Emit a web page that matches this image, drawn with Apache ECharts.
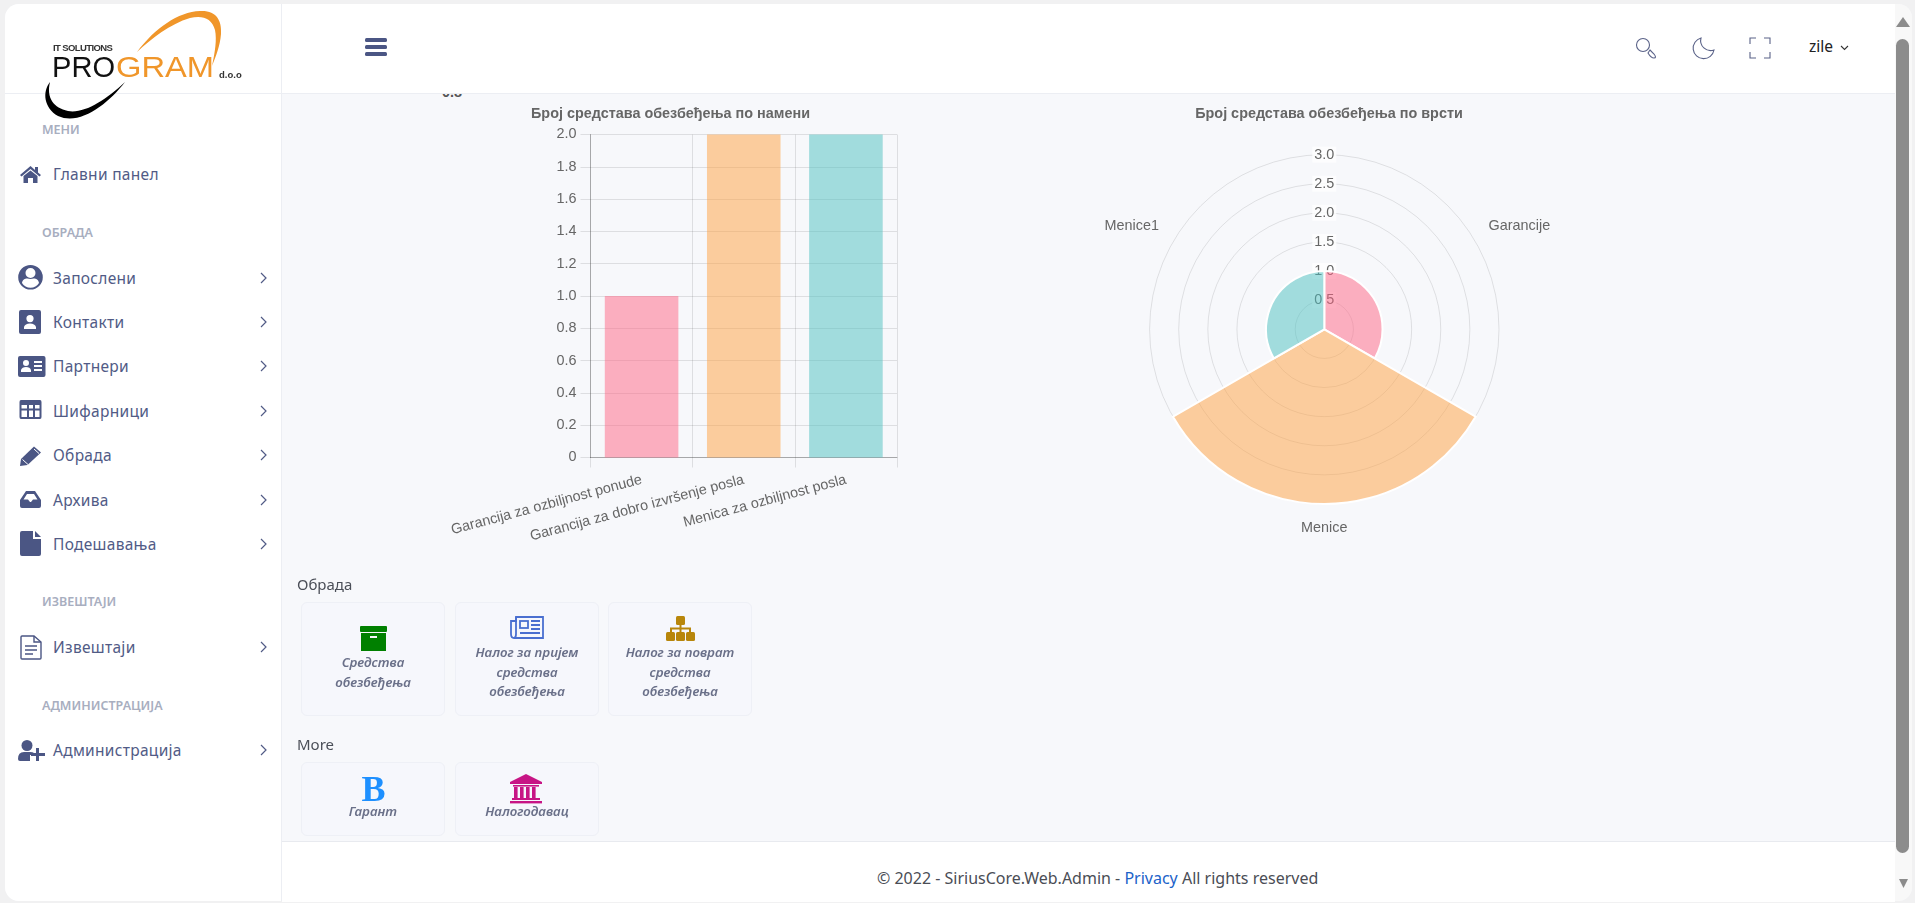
<!DOCTYPE html>
<html>
<head>
<meta charset="utf-8">
<title>SiriusCore.Web.Admin</title>
<script src="https://cdn.jsdelivr.net/npm/echarts@6/dist/echarts.min.js"></script>
<style>
html, body {
	margin: 0px;
	width: 1915px;
	height: 903px;
	overflow: hidden;
	background: #f1f1f2;
	font-family: "Noto Sans", sans-serif;
}
#frame {
	position: absolute;
	left: 5px;
	top: 4px;
	width: 1907px;
	height: 897px;
	background: #f7f8fb;
	border-radius: 14px;
	overflow: hidden;
}
#main1 {
	position: absolute;
	left: 0px;
	top: 0px;
	width: 1915px;
	height: 903px;
}
#sidebar {
	position: absolute;
	left: 5px;
	top: 4px;
	width: 276px;
	height: 897px;
	background: #fff;
	border-right: 1px solid #eceef3;
	border-radius: 14px 0 0 14px;
}
#header {
	position: absolute;
	left: 282px;
	top: 4px;
	width: 1613px;
	height: 89px;
	background: #fff;
	border-bottom: 1px solid #eceef3;
}
#logoline {
	position: absolute;
	left: 5px;
	top: 93px;
	width: 276px;
	height: 1px;
	background: #eceef3;
}
#footer {
	position: absolute;
	left: 282px;
	top: 841px;
	width: 1613px;
	height: 60px;
	background: #fff;
	border-top: 1px solid #e8eaef;
}
#scroll {
	position: absolute;
	left: 1895px;
	top: 4px;
	width: 17px;
	height: 897px;
	background: #f8f8f8;
	border-radius: 0 14px 14px 0;
}
#thumb {
	position: absolute;
	left: 1896px;
	top: 39px;
	width: 13px;
	height: 814px;
	background: #8c8c8c;
	border-radius: 7px;
}
.t {
	position: absolute;
	white-space: nowrap;
	line-height: 20px;
}
.menu {
	font-size: 15.5px;
	color: #515b86;
	letter-spacing: 0.3px;
}
.sec {
	font-size: 12.5px;
	font-weight: 600;
	color: #a8aebf;
}
.head {
	font-size: 15px;
	color: #4b4f58;
}
.card {
	position: absolute;
	width: 142px;
	background: #f6f7fc;
	border: 1px solid #eef0f6;
	border-radius: 6px;
}
.cap {
	position: absolute;
	width: 144px;
	text-align: center;
	font-size: 13.3px;
	font-style: italic;
	font-weight: 600;
	line-height: 19.6px;
	color: #6a7089;
}
svg {
	position: absolute;
	left: 0px;
	top: 0px;
}
</style>
</head>
<body>
	<div id="frame"></div>
	<div class="t" style="left:442px;top:84px;font:bold 14.4px 'Liberation Sans';color:#555;">0.8</div>
	<div class="card" style="left:301px;top:602px;height:112px;"></div>
	<div class="card" style="left:455px;top:602px;height:112px;"></div>
	<div class="card" style="left:608px;top:602px;height:112px;"></div>
	<div class="card" style="left:301px;top:762px;height:72px;"></div>
	<div class="card" style="left:455px;top:762px;height:72px;"></div>
	<div id="main1"></div>
	<div id="header"></div>
	<div id="sidebar"></div>
	<div id="logoline"></div>
	<div id="footer"></div>
	<div id="scroll"></div>
	<div id="thumb"></div>

	<div class="t sec" style="left:42px;top:120px;">МЕНИ</div>
	<div class="t sec" style="left:42px;top:223px;">ОБРАДА</div>
	<div class="t sec" style="left:42px;top:592px;">ИЗВЕШТАЈИ</div>
	<div class="t sec" style="left:42px;top:696px;">АДМИНИСТРАЦИЈА</div>

	<div class="t menu" style="left:53px;top:164px;">Главни панел</div>
	<div class="t menu" style="left:53px;top:268px;">Запослени</div>
	<div class="t menu" style="left:53px;top:312px;">Контакти</div>
	<div class="t menu" style="left:53px;top:356px;">Партнери</div>
	<div class="t menu" style="left:53px;top:401px;">Шифарници</div>
	<div class="t menu" style="left:53px;top:445px;">Обрада</div>
	<div class="t menu" style="left:53px;top:490px;">Архива</div>
	<div class="t menu" style="left:53px;top:534px;">Подешавања</div>
	<div class="t menu" style="left:53px;top:637px;">Извештаји</div>
	<div class="t menu" style="left:53px;top:740px;">Администрација</div>

	<div class="t head" style="left:297px;top:574px;">Обрада</div>
	<div class="t head" style="left:297px;top:734px;">More</div>

	<div class="cap" style="left:301px;top:653px;">Средства<br>обезбеђења</div>
	<div class="cap" style="left:455px;top:643px;">Налог за пријем<br>средства<br>обезбеђења</div>
	<div class="cap" style="left:608px;top:643px;">Налог за поврат<br>средства<br>обезбеђења</div>
	<div class="cap" style="left:301px;top:802px;">Гарант</div>
	<div class="cap" style="left:455px;top:802px;">Налогодавац</div>

	<div class="t" style="left:1809px;top:36px;font-size:15.5px;color:#222;">zile</div>
	<div class="t" style="left:877px;top:868px;font-size:16px;color:#4a4d55;">© 2022 - SiriusCore.Web.Admin - <span style="color:#1b62c9;">Privacy</span> All rights reserved</div>

	<svg width="1915" height="903">
		<!-- logo -->
		<path d="M137 52 C155 28 178 12 200 11 C216 10 222 20 221 34 C220 46 216 56 212 66 C215 52 217 40 215 30 C212 18 202 15 190 18 C170 24 152 38 137 52 Z" fill="#f0962a"/>
		<path d="M50 82 C42 92 44 108 58 116 C80 126 108 104 125 82 C106 100 84 114 68 111 C54 108 46 98 50 82 Z" fill="#000"/>
		<text x="53" y="51" font-family="Liberation Sans" font-weight="bold" font-size="9.5" letter-spacing="-0.6" fill="#333">IT SOLUTIONS</text>
		<text x="52" y="77" font-family="Liberation Sans" font-size="30" textLength="63" lengthAdjust="spacingAndGlyphs" fill="#111">PRO</text>
		<text x="116" y="77" font-family="Liberation Sans" font-size="30" textLength="98" lengthAdjust="spacingAndGlyphs" fill="#f0962a">GRAM</text>
		<text x="219" y="78" font-family="Liberation Sans" font-weight="bold" font-size="9.5" fill="#333">d.o.o</text>

		<g fill="#4b5684">
			<!-- hamburger -->
			<rect x="365" y="38" width="22" height="4" rx="1.5"/>
			<rect x="365" y="45" width="22" height="4" rx="1.5"/>
			<rect x="365" y="52" width="22" height="4" rx="1.5"/>
			<!-- home -->
			<path d="M20 175 L30.5 166 L35 170 L35 167 L38 167 L38 172.5 L41 175 L39.5 176.5 L30.5 169 L21.5 176.5 Z"/>
			<path d="M23.5 176 L30.5 170.5 L37.5 176 L37.5 183 L33 183 L33 178 L28 178 L28 183 L23.5 183 Z"/>
			<!-- user circle -->
			<path fill-rule="evenodd" d="M30.5 265 A12.3 12.3 0 1 0 30.5 289.6 A12.3 12.3 0 1 0 30.5 265 Z M30.5 268 A5 5 0 1 1 30.5 278 A5 5 0 1 1 30.5 268 Z M22 283 C23 278 27 278 30.5 279 C34 278 38 278 39 283 A10 10 0 0 1 22 283 Z"/>
			<!-- contacts -->
			<path fill-rule="evenodd" d="M21 310 L39 310 Q41 310 41 312 L41 332 Q41 334 39 334 L21 334 Q19 334 19 332 L19 312 Q19 310 21 310 Z M30 315 A3.6 3.6 0 1 0 30 322.2 A3.6 3.6 0 1 0 30 315 Z M24 329 L36 329 L36 327 Q35 323.5 30 323.5 Q25 323.5 24 327 Z"/>
			<!-- partner card -->
			<path fill-rule="evenodd" d="M20 356 L43.5 356 Q45.5 356 45.5 358 L45.5 375 Q45.5 377 43.5 377 L20 377 Q18 377 18 375 L18 358 Q18 356 20 356 Z M26 360 A3 3 0 1 0 26 366 A3 3 0 1 0 26 360 Z M21 372 L31 372 L31 370 Q30 367 26 367 Q22 367 21 370 Z M34 361 L42 361 L42 363 L34 363 Z M34 365 L42 365 L42 367 L34 367 Z M34 369 L42 369 L42 371 L34 371 Z"/>
			<!-- table -->
			<path fill-rule="evenodd" d="M21 400 L40 400 Q41.5 400 41.5 402 L41.5 417 Q41.5 419 40 419 L21 419 Q19.5 419 19.5 417 L19.5 402 Q19.5 400 21 400 Z M21.5 405 L21.5 408.5 L27 408.5 L27 405 Z M29 405 L29 408.5 L33 408.5 L33 405 Z M35 405 L35 408.5 L39.5 408.5 L39.5 405 Z M21.5 410.5 L21.5 417 L27 417 L27 410.5 Z M29 410.5 L29 417 L33 417 L33 410.5 Z M35 410.5 L35 417 L39.5 417 L39.5 410.5 Z"/>
			<!-- pencil -->
			<path d="M20 466 L21 459 L34 446.5 L41 452.5 L27.5 465 Z"/>
			<!-- inbox -->
			<path fill-rule="evenodd" d="M26 491 L35 491 L41 500 L41 506 Q41 508 39 508 L22 508 Q20 508 20 506 L20 500 Z M27 494 L23.5 499.5 L28 499.5 L30 502 L31 502 L33 499.5 L37.5 499.5 L34 494 Z"/>
			<!-- file -->
			<path d="M20 533 Q20 531 22 531 L33 531 L33 539 L41 539 L41 554 Q41 556 39 556 L22 556 Q20 556 20 554 Z"/>
			<path d="M35 531 L41 537 L35 537 Z"/>
			<!-- user plus -->
			<path d="M27 740 A5.5 5.5 0 1 1 27 751 A5.5 5.5 0 1 1 27 740 Z"/>
			<path d="M18 759 Q18 752 24 752 L30 752 Q33 752 34 753 L34 755 L30 755 L30 761 L20 761 Q18 761 18 759 Z"/>
			<path d="M36 748 L39 748 L39 753 L45 753 L45 756 L39 756 L39 761 L36 761 L36 756 L31 756 L31 753 L36 753 Z"/>
		</g>
		<path d="M34 449 L39 453.5 M22.5 459.5 L28 464.5" stroke="#fff" stroke-width="1" fill="none"/>
		<!-- report -->
		<g fill="none" stroke="#4b5684" stroke-width="1.4">
			<path d="M21 637 Q21 636 22 636 L34 636 L41 642 L41 658 Q41 659 40 659 L22 659 Q21 659 21 658 Z"/>
			<path d="M34 636 L34 642 L41 642"/>
			<path d="M25 646 L37 646 M25 650 L37 650 M25 654 L33 654"/>
		</g>
		<!-- arrows -->
		<g fill="none" stroke="#515b86" stroke-width="1.2">
			<path d="M261 273 L266 278 L261 283"/>
			<path d="M261 317 L266 322 L261 327"/>
			<path d="M261 361 L266 366 L261 371"/>
			<path d="M261 406 L266 411 L261 416"/>
			<path d="M261 450 L266 455 L261 460"/>
			<path d="M261 495 L266 500 L261 505"/>
			<path d="M261 539 L266 544 L261 549"/>
			<path d="M261 642 L266 647 L261 652"/>
			<path d="M261 745 L266 750 L261 755"/>
		</g>
		<!-- top right icons -->
		<g fill="none" stroke="#5a6288" stroke-width="1.1">
			<circle cx="1643" cy="45" r="6.5"/>
			<path d="M1650 50 L1654 54 Q1657 58 1654 58 Q1651 58 1648 53 Z"/>
			<path d="M1701 38 A10.5 10.5 0 1 0 1714 50 A10 10 0 0 1 1701 38 Z"/>
			<path d="M1750 44 L1750 38 L1756 38 M1764 38 L1770 38 L1770 44 M1770 52 L1770 58 L1764 58 M1756 58 L1750 58 L1750 52"/>
			<path d="M1841 46 L1844.5 49.5 L1848 46" stroke="#333"/>
		</g>
		<!-- card icons -->
		<rect x="360" y="626" width="27" height="6" rx="1" fill="#008000"/>
		<path fill-rule="evenodd" d="M361 633 L386 633 L386 651 L361 651 Z M370 636 L370 638 L377 638 L377 636 Z" fill="#008000"/>
		<g fill="none" stroke="#4a6fd0" stroke-width="1.8">
			<path d="M516 617 L543 617 L543 638 L514 638 Q511 638 511 634 L511 621 L516 621 Z"/>
			<path d="M516 617 L516 634 Q516 638 514 638"/>
			<rect x="520" y="621" width="8" height="7"/>
			<path d="M531 621 L540 621 M531 625 L540 625 M531 629 L540 629 M520 633 L540 633"/>
		</g>
		<g fill="#b8860b">
			<rect x="676" y="616" width="9" height="9" rx="1.5"/>
			<rect x="666" y="632" width="9" height="9" rx="1.5"/>
			<rect x="676" y="632" width="9" height="9" rx="1.5"/>
			<rect x="686" y="632" width="9" height="9" rx="1.5"/>
			<path d="M679.5 625 L681.5 625 L681.5 627.5 L691 627.5 L691 632 L689 632 L689 629.5 L681.5 629.5 L681.5 632 L679.5 632 L679.5 629.5 L672 629.5 L672 632 L670 632 L670 627.5 L679.5 627.5 Z"/>
		</g>
		<text x="373.5" y="801" text-anchor="middle" font-family="Liberation Serif" font-weight="bold" font-size="36" fill="#1e90ff">B</text>
		<g fill="#c71585">
			<path d="M526 774 L542 782 L542 784 L510 784 L510 782 Z"/>
			<rect x="513" y="785" width="26" height="1.6"/>
			<rect x="514" y="787" width="3.6" height="11"/>
			<rect x="520" y="787" width="3.6" height="11"/>
			<rect x="526" y="787" width="3.6" height="11"/>
			<rect x="532" y="787" width="3.6" height="11"/>
			<rect x="512" y="798" width="28" height="2"/>
			<rect x="510" y="801" width="32" height="2.4"/>
		</g>
		<!-- scrollbar arrows -->
		<path d="M1903 17 L1910 27 L1896 27 Z" fill="#8c8c8c"/>
		<path d="M1899 879 L1908 879 L1903.5 888 Z" fill="#8c8c8c"/>
	</svg>

	<script>
		var barTitle = 'Број средстава обезбеђења по намени';
		var barCategories = ['Garancija za ozbiljnost ponude', 'Garancija za dobro izvršenje posla', 'Menica za ozbiljnost posla'];
		var barValues = [1, 2, 2];

		var polarTitle = 'Број средстава обезбеђења по врсти';
		var polarCategories = ['Garancije', 'Menice', 'Menice1'];
		var polarValues = [1, 3, 1];

		var colors = ['rgba(255,99,132,0.5)', 'rgba(255,159,64,0.5)', 'rgba(75,192,192,0.5)'];
		// nudges the outer labels to where they sit in the picture
		var polarLabelPadding = [[0, 0, 1, 0], [2.5, 0, 0, 0], [0, 1, 1, 0]];

		var chartFont = '"Liberation Sans", Arial, sans-serif';
		var gridColor = 'rgba(0,0,0,0.1)';

		function fillItems(values) {
			var result = [];
			for (var i = 0, len = values.length; i < len; i++) {
				result.push({ value: values[i], itemStyle: { color: colors[i] } });
			}
			return result;
		}

		function polarAxisItems() {
			var result = [];
			for (var i = 0, len = polarCategories.length; i < len; i++) {
				result.push({ value: polarCategories[i], textStyle: { padding: polarLabelPadding[i] } });
			}
			return result;
		}

		var myChart = echarts.init(document.getElementById('main1'));

		var option = {
			animation: false,
			textStyle: { fontFamily: chartFont },
			title: [
				{
					text: barTitle,
					left: 670.5,
					top: 107,
					padding: 0,
					textAlign: 'center',
					textStyle: { fontFamily: chartFont, fontSize: 14.4, fontWeight: 'bold', color: '#666' }
				},
				{
					text: polarTitle,
					left: 1329,
					top: 107,
					padding: 0,
					textAlign: 'center',
					textStyle: { fontFamily: chartFont, fontSize: 14.4, fontWeight: 'bold', color: '#666' }
				}
			],
			grid: { left: 590.5, top: 134.5, width: 306.5, height: 323 },
			xAxis: {
				type: 'category',
				data: barCategories,
				axisLine: { lineStyle: { color: 'rgba(0,0,0,0.25)' } },
				axisTick: { show: true, length: 10, lineStyle: { color: gridColor } },
				splitLine: { show: true, lineStyle: { color: gridColor } },
				axisLabel: { rotate: 15, interval: 0, margin: 22, fontSize: 14.4, color: '#666' }
			},
			yAxis: {
				type: 'value',
				min: 0,
				max: 2,
				interval: 0.2,
				axisLine: { show: true, lineStyle: { color: 'rgba(0,0,0,0.25)' } },
				axisTick: { show: true, length: 10, lineStyle: { color: gridColor } },
				splitLine: { lineStyle: { color: gridColor } },
				axisLabel: {
					fontSize: 14.4,
					margin: 14,
					padding: [2, 0, 0, 0],
					color: '#666',
					formatter: function(v) { return v === 0 ? '0' : v.toFixed(1); }
				}
			},
			polar: { center: [1324.3, 329.3], radius: 174.7 },
			angleAxis: {
				type: 'category',
				data: polarAxisItems(),
				startAngle: 90,
				clockwise: true,
				axisLine: { show: false },
				axisTick: { show: false },
				splitLine: { show: false },
				axisLabel: { margin: 15, fontSize: 14.4, color: '#666' }
			},
			radiusAxis: {
				type: 'value',
				min: 0,
				max: 3,
				interval: 0.5,
				axisLine: { show: false },
				axisTick: { show: false },
				splitLine: { lineStyle: { color: gridColor } },
				axisLabel: {
					margin: 0,
					align: 'center',
					verticalAlign: 'middle',
					showMinLabel: false,
					fontSize: 14.4,
					color: '#666',
					backgroundColor: 'rgba(255,255,255,0.75)',
					padding: [1, 2],
					formatter: function(v) { return v.toFixed(1); }
				}
			},
			series: [
				{
					type: 'bar',
					barWidth: '72%',
					data: fillItems(barValues)
				},
				{
					type: 'bar',
					coordinateSystem: 'polar',
					barCategoryGap: 0,
					barWidth: '100%',
					itemStyle: { borderColor: '#fff', borderWidth: 2 },
					data: fillItems(polarValues)
				}
			]
		};

		myChart.setOption(option);
	</script>
</body>
</html>
